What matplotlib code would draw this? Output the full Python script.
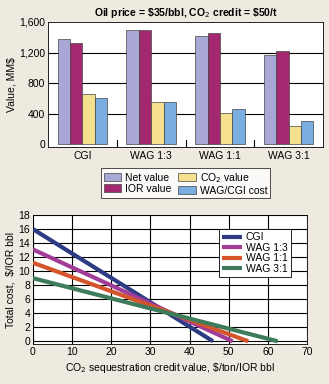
import numpy as np
import matplotlib.pyplot as plt

plt.rcParams['font.family'] = ['Liberation Sans', 'DejaVu Sans']
plt.rcParams['font.size'] = 7.5

# bar chart data, MM$
cases = ['CGI', 'WAG 1:3', 'WAG 1:1', 'WAG 3:1']
net_value = [1380, 1490, 1410, 1165]
ior_value = [1330, 1500, 1450, 1225]
co2_value = [660, 550, 415, 245]
inj_cost = [610, 560, 465, 305]

# total cost lines: (credit at zero cost, cost at zero credit)
line_names = ['CGI', 'WAG 1:3', 'WAG 1:1', 'WAG 3:1']
credit_x = [[0, 46], [0, 51], [0, 55], [0, 62.5]]
cost_y = [[16, 0], [13.1, 0], [11.2, 0], [9, 0]]

bg = '#efeadf'
fig = plt.figure(figsize=(3.29, 3.84), dpi=100, facecolor=bg)

# top: value bars
ax1 = fig.add_axes([0.146, 0.618, 0.836, 0.325])
x = np.arange(len(cases))
w = 0.18
series = [(net_value, '#a9a7d6', 'Net value'),
          (ior_value, '#a3286f', 'IOR value'),
          (co2_value, '#f4e08e', 'CO$_2$ value'),
          (inj_cost, '#7aaee0', 'WAG/CGI cost')]
bars = []
for i, (vals, col, lab) in enumerate(series):
    b = ax1.bar(x + (i - 1.5) * w, vals, w, color=col, edgecolor='#444444',
                linewidth=0.5, label=lab, zorder=3)
    bars.append(b)
ax1.set_xlim(-0.5, 3.5)
ax1.set_ylim(-30, 1600)
ax1.set_yticks([0, 400, 800, 1200, 1600])
ax1.set_yticklabels(['0', '400', '800', '1,200', '1,600'])
ax1.set_xticks(x)
ax1.set_xticklabels(cases)
ax1.tick_params(axis='x', length=0, pad=3)
ax1.tick_params(axis='y', length=0, pad=2)
for yv in [400, 800, 1200]:
    ax1.axhline(yv, color='black', lw=0.8, zorder=1)
for xv in [0.5, 1.5, 2.5]:
    ax1.plot([xv, xv], [-30, 60], color='black', lw=0.8, zorder=2)
ax1.set_ylabel('Value, MM$', labelpad=2)
ax1.set_title('Oil price = \\$35/bbl, CO$_2$ credit = \\$50/t',
              fontweight='bold', fontsize=7.5, pad=4)
for s in ax1.spines.values():
    s.set_linewidth(0.6)
leg1 = ax1.legend(handles=bars, ncol=2, loc='upper center',
                  bbox_to_anchor=(0.5, -0.13),
                  frameon=True, fancybox=False, edgecolor='black',
                  handlelength=1.7, handleheight=0.75, columnspacing=0.6,
                  handletextpad=0.4, borderpad=0.25, labelspacing=0.1, fontsize=7.5)
leg1.get_frame().set_linewidth(0.6)

# bottom: total cost vs credit value
ax2 = fig.add_axes([0.100, 0.104, 0.833, 0.336])
colors = ['#2d3b82', '#a23d97', '#d4552b', '#3e7b5b']
for name, xs, ys, c in zip(line_names, credit_x, cost_y, colors):
    ax2.plot(xs, ys, color=c, lw=3, label=name, solid_capstyle='butt', zorder=3)
ax2.set_xlim(0, 70)
ax2.set_ylim(-0.4, 18)
ax2.set_xticks(range(0, 71, 10))
ax2.set_yticks(range(0, 19, 2))
ax2.grid(True, color='black', lw=0.8, zorder=1)
ax2.tick_params(length=0, pad=2)
ax2.set_xlabel('CO$_2$ sequestration credit value, \\$/ton/IOR bbl', labelpad=3)
ax2.set_ylabel('Total cost,  \\$/IOR bbl', labelpad=2)
for s in ax2.spines.values():
    s.set_linewidth(0.6)
leg2 = ax2.legend(loc='upper right', bbox_to_anchor=(0.96, 0.93),
                  frameon=True, fancybox=False, edgecolor='black',
                  handlelength=1.9, handletextpad=0.4, borderpad=0.3,
                  labelspacing=0.05, fontsize=7.5)
leg2.get_frame().set_linewidth(0.6)
leg2.get_frame().set_alpha(1)

fig.savefig('out.png', dpi=100, facecolor=bg)
